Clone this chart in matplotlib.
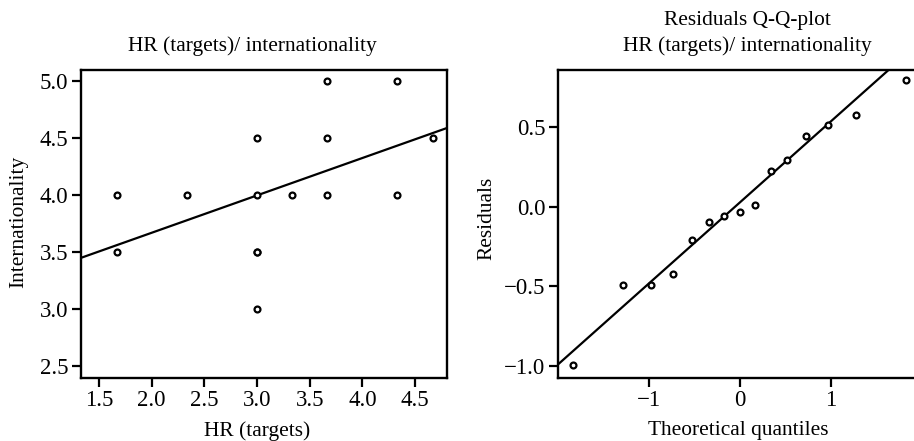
import numpy as np
import matplotlib
matplotlib.use("Agg")
import matplotlib.pyplot as plt

plt.rcParams['font.family'] = ['Liberation Serif', 'DejaVu Serif']

# ---- data: scatter (left) ----
hr_targets = [1.667, 1.667, 2.333, 3.0, 3.0, 3.0, 3.0, 3.0, 3.333,
              3.667, 3.667, 3.667, 4.333, 4.333, 4.667]
internationality = [4.0, 3.5, 4.0, 4.5, 4.0, 3.5, 3.5, 3.0, 4.0,
                    5.0, 4.5, 4.0, 5.0, 4.0, 4.5]

# ---- data: Q-Q plot (right) ----
theoretical_q = [-1.83, -1.28, -0.97, -0.73, -0.52, -0.34, -0.17, 0.0,
                 0.17, 0.34, 0.52, 0.73, 0.97, 1.28, 1.83]
residuals = [-0.996, -0.494, -0.494, -0.425, -0.209, -0.096, -0.061, -0.033,
             0.013, 0.222, 0.293, 0.446, 0.515, 0.576, 0.795]

left_xticks = [1.5, 2.0, 2.5, 3.0, 3.5, 4.0, 4.5]
left_yticks = [2.5, 3.0, 3.5, 4.0, 4.5, 5.0]
right_xticks = [-1, 0, 1]
right_yticks = [-1.0, -0.5, 0.0, 0.5]

W, H = 914, 441
fig = plt.figure(figsize=(W / 100, H / 100), dpi=100)


def px_axes(x0, y0, x1, y1):
    return fig.add_axes([x0 / W, 1 - y1 / H, (x1 - x0) / W, (y1 - y0) / H])


tick_fs = 16.5
lab_fs = 15.4

def style(ax):
    for s in ax.spines.values():
        s.set_linewidth(1.7)
    ax.tick_params(direction='out', length=6.5, width=1.6, labelsize=tick_fs,
                   pad=2.5, color='black')

# left panel
ax1 = px_axes(81, 70, 447, 378)
style(ax1)
ax1.scatter(hr_targets, internationality, s=18, facecolors='white',
            edgecolors='black', linewidths=1.6, zorder=3)
slope, intercept = np.polyfit(hr_targets, internationality, 1)
xl = np.array([1.329, 4.804])
ax1.plot(xl, intercept + slope * xl, color='black', lw=1.6, zorder=2)
ax1.set_xlim(1.329, 4.804)
ax1.set_ylim(2.395, 5.092)
ax1.set_xticks(left_xticks)
ax1.set_xticklabels([f"{v:.1f}" for v in left_xticks])
ax1.set_yticks(left_yticks)
ax1.set_yticklabels([f"{v:.1f}" for v in left_yticks])

# right panel
ax2 = px_axes(557.7, 70, 920, 378)
style(ax2)
ax2.scatter(theoretical_q, residuals, s=18, facecolors='white',
            edgecolors='black', linewidths=1.6, zorder=3)
q1, q3 = np.quantile(residuals, [0.25, 0.75])
z = 0.6745
qslope = (q3 - q1) / (2 * z)
qint = (q1 + q3) / 2
xr = np.array([-2.1, 2.2])
ax2.plot(xr, qint + qslope * xr, color='black', lw=1.6, zorder=2)
ax2.set_xlim(-2.0, 1.98)
ax2.set_ylim(-1.075, 0.858)
ax2.set_xticks(right_xticks)
ax2.set_xticklabels(["\u22121", "0", "1"])
ax2.set_yticks(right_yticks)
ax2.set_yticklabels(["\u22121.0", "\u22120.5", "0.0", "0.5"])


def ftext(x, y, s, **kw):
    fig.text(x / W, 1 - y / H, s, ha='center', va='center', fontsize=lab_fs, **kw)

ftext(252.5, 46, "HR (targets)/ internationality")
ftext(747, 20, "Residuals Q-Q-plot")
ftext(747, 46, "HR (targets)/ internationality")
ftext(257, 431, "HR (targets)")
ftext(738, 430, "Theoretical quantiles")
ftext(19, 222, "Internationality", rotation=90)
ftext(487, 218, "Residuals", rotation=90)

fig.savefig("out.png", dpi=100)
